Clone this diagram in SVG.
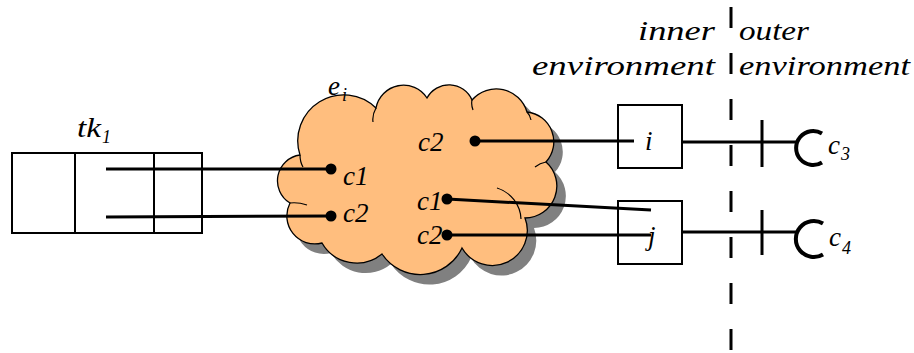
<svg xmlns="http://www.w3.org/2000/svg" width="914" height="353" viewBox="0 0 914 353">
<style>
svg text{font-family:'Liberation Serif','Times New Roman',serif !important;font-style:italic !important;fill:#000}
</style>
<defs>
<path id="cloud" d="M 300,155 A 46 46 0 0 1 376,108 A 28 28 0 0 1 427,98 A 25 25 0 0 1 472,100 A 32 32 0 0 1 527,112 A 30 30 0 0 1 546,162 A 32 32 0 0 1 525,218 A 35 35 0 0 1 462,248 A 46 46 0 0 1 382,254 A 40 40 0 0 1 322,243 A 28 28 0 0 1 290,203 A 26 26 0 0 1 300,155 Z"/>
</defs>
<rect width="914" height="353" fill="#fff"/>

<g id="tk1">
<rect x="12" y="153" width="190" height="80" fill="#fff" stroke="#000" stroke-width="2"/>
<line x1="75" y1="153" x2="75" y2="233" stroke="#000" stroke-width="2"/>
<line x1="154" y1="153" x2="154" y2="233" stroke="#000" stroke-width="2"/>
<text style="font-family:'Liberation Serif',serif !important;font-style:italic;font-size:27px" x="77" y="137" textLength="24" lengthAdjust="spacingAndGlyphs">tk</text>
<text style="font-family:'Liberation Serif',serif !important;font-style:italic;font-size:18px" x="102" y="143">1</text>
</g>

<g id="ei">
<use href="#cloud" transform="translate(9,10)" fill="#808080"/>
<use href="#cloud" fill="#FFBE7E" stroke="#000" stroke-width="1.3"/>
<path fill="none" stroke="#000" stroke-width="1.2" d="M 300,155 Q 300,162 303,167 M 290,203 Q 298,202 307,205 M 376,108 Q 372,115 373,122 M 472,100 Q 471,105 473,110 M 527,112 Q 530,115 531,120 M 546,162 Q 540,163 535,167 M 497,188 A 34 34 0 0 1 521,219"/>
<text style="font-family:'Liberation Serif',serif !important;font-style:italic;font-size:27px" x="328" y="95">e</text>
<text style="font-family:'Liberation Serif',serif !important;font-style:italic;font-size:18px" x="342" y="101">i</text>
<text style="font-family:'Liberation Serif',serif !important;font-style:italic;font-size:27px" x="343" y="185">c1</text>
<text style="font-family:'Liberation Serif',serif !important;font-style:italic;font-size:27px" x="343" y="222">c2</text>
<text style="font-family:'Liberation Serif',serif !important;font-style:italic;font-size:27px" x="418" y="151">c2</text>
<text style="font-family:'Liberation Serif',serif !important;font-style:italic;font-size:27px" x="417" y="210">c1</text>
<text style="font-family:'Liberation Serif',serif !important;font-style:italic;font-size:27px" x="417" y="244">c2</text>
</g>

<g id="node-i">
<rect x="618" y="105" width="64" height="63" fill="#fff" stroke="#000" stroke-width="2"/>
<text style="font-family:'Liberation Serif',serif !important;font-style:italic;font-size:27px" x="645" y="150">i</text>
</g>

<g id="node-j">
<rect x="618" y="201" width="64" height="63" fill="#fff" stroke="#000" stroke-width="2"/>
<text style="font-family:'Liberation Serif',serif !important;font-style:italic;font-size:27px" x="648" y="245">j</text>
</g>

<g id="boundary">
<line x1="731" y1="7" x2="731" y2="353" stroke="#000" stroke-width="3" stroke-dasharray="21 25"/>
<text style="font-family:'Liberation Serif',serif !important;font-style:italic;font-size:27px" x="638" y="40" textLength="77" lengthAdjust="spacingAndGlyphs">inner</text>
<text style="font-family:'Liberation Serif',serif !important;font-style:italic;font-size:27px" x="532" y="75" textLength="183" lengthAdjust="spacingAndGlyphs">environment</text>
<text style="font-family:'Liberation Serif',serif !important;font-style:italic;font-size:27px" x="739" y="40" textLength="70" lengthAdjust="spacingAndGlyphs">outer</text>
<text style="font-family:'Liberation Serif',serif !important;font-style:italic;font-size:27px" x="739" y="75" textLength="171" lengthAdjust="spacingAndGlyphs">environment</text>
</g>

<g id="c3">
<line x1="762" y1="120" x2="762" y2="167" stroke="#000" stroke-width="3"/>
<path d="M 822,133.5 A 17 17 0 1 0 822,162.5" fill="none" stroke="#000" stroke-width="4"/>
<text style="font-family:'Liberation Serif',serif !important;font-style:italic;font-size:27px" x="828" y="154">c</text>
<text style="font-family:'Liberation Serif',serif !important;font-style:italic;font-size:18px" x="841" y="160">3</text>
</g>

<g id="c4">
<line x1="762" y1="210" x2="762" y2="255" stroke="#000" stroke-width="3"/>
<path d="M 823,223.5 A 18 18 0 1 0 823,254.5" fill="none" stroke="#000" stroke-width="4"/>
<text style="font-family:'Liberation Serif',serif !important;font-style:italic;font-size:27px" x="829" y="246">c</text>
<text style="font-family:'Liberation Serif',serif !important;font-style:italic;font-size:18px" x="842" y="254">4</text>
</g>

<g id="connectors" stroke="#000" stroke-width="3" fill="none">
<line x1="106" y1="169" x2="331" y2="169"/>
<line x1="106" y1="217" x2="331" y2="216"/>
<line x1="475" y1="141" x2="634" y2="141"/>
<line x1="447" y1="199" x2="651" y2="210"/>
<line x1="447" y1="235" x2="651" y2="235"/>
<line x1="682" y1="142" x2="798" y2="142"/>
<line x1="682" y1="232" x2="798" y2="232"/>
<g fill="#000" stroke="none">
<circle cx="331" cy="169" r="5.5"/>
<circle cx="331" cy="216" r="5.5"/>
<circle cx="475" cy="141" r="5.5"/>
<circle cx="447" cy="199" r="5.5"/>
<circle cx="447" cy="235" r="5.5"/>
</g>
</g>
</svg>
